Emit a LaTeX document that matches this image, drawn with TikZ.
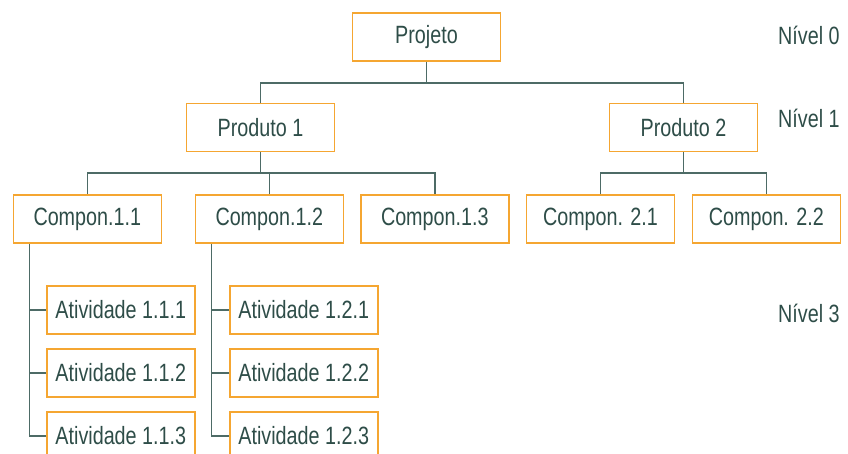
\documentclass[tikz,border=0pt]{standalone}
\usepackage{fontspec}
\setmainfont{Liberation Sans}[FakeStretch=0.79]
\definecolor{boxorange}{HTML}{F5A631}
\definecolor{txtcol}{HTML}{2E4D48}
\definecolor{linecol}{HTML}{4D6B66}
\begin{document}
\begin{tikzpicture}[x=1pt,y=-1pt,
  wbs/.style={draw=boxorange,line width=1.6pt,fill=white,minimum width=148pt,minimum height=48pt,inner sep=0pt,text=txtcol,font=\fontsize{25}{28}\selectfont},
  lvl/.style={anchor=west,inner sep=0pt,text=txtcol,font=\fontsize{25}{28}\selectfont},
  conn/.style={draw=linecol,line width=1.6pt}]
\useasboundingbox (0,0) rectangle (848,454);
\clip (0,0) rectangle (848,454);
\node[wbs] (proj) at (426.5,37) {Projeto};
\node[wbs] (p1) at (260.5,127.5) {Produto 1};
\node[wbs] (p2) at (683.5,127.5) {Produto 2};
\node[wbs] (c11) at (87.3,219) {Compon.1.1};
\node[wbs] (c12) at (269.3,219) {Compon.1.2};
\node[wbs] (c13) at (434.8,219) {Compon.1.3};
\node[wbs] (c21) at (600.5,219) {Compon. 2.1};
\node[wbs] (c22) at (766.3,219) {Compon. 2.2};
\node[wbs] (a111) at (120.8,309.7) {Atividade 1.1.1};
\node[wbs] (a112) at (120.8,372.8) {Atividade 1.1.2};
\node[wbs] (a113) at (120.8,436) {Atividade 1.1.3};
\node[wbs] (a121) at (303.7,309.7) {Atividade 1.2.1};
\node[wbs] (a122) at (303.7,372.8) {Atividade 1.2.2};
\node[wbs] (a123) at (303.7,436) {Atividade 1.2.3};
\node[lvl] (n0) at (778,35) {Nível 0};
\node[lvl] (n1) at (778,118) {Nível 1};
\node[lvl] (n3) at (778,313) {Nível 3};
% connectors
\path[conn] (proj.south) -- ++(0,21) coordinate (b0);
\path[conn] (p1.north) |- (b0) -| (p2.north);
\path[conn] (p1.south) -- ++(0,21) coordinate (b1);
\path[conn] (c11.north) |- (b1) -| (c13.north);
\path[conn] (c12.north) -- (c12.north |- b1);
\path[conn] (p2.south) -- ++(0,21) coordinate (b2);
\path[conn] (c21.north) |- (b2) -| (c22.north);
\coordinate (v1) at ([xshift=17pt]c11.south west);
\path[conn] (v1) |- (a113.west);
\path[conn] (v1 |- a111.west) -- (a111.west);
\path[conn] (v1 |- a112.west) -- (a112.west);
\coordinate (v2) at ([xshift=17pt]c12.south west);
\path[conn] (v2) |- (a123.west);
\path[conn] (v2 |- a121.west) -- (a121.west);
\path[conn] (v2 |- a122.west) -- (a122.west);
\end{tikzpicture}
\end{document}
